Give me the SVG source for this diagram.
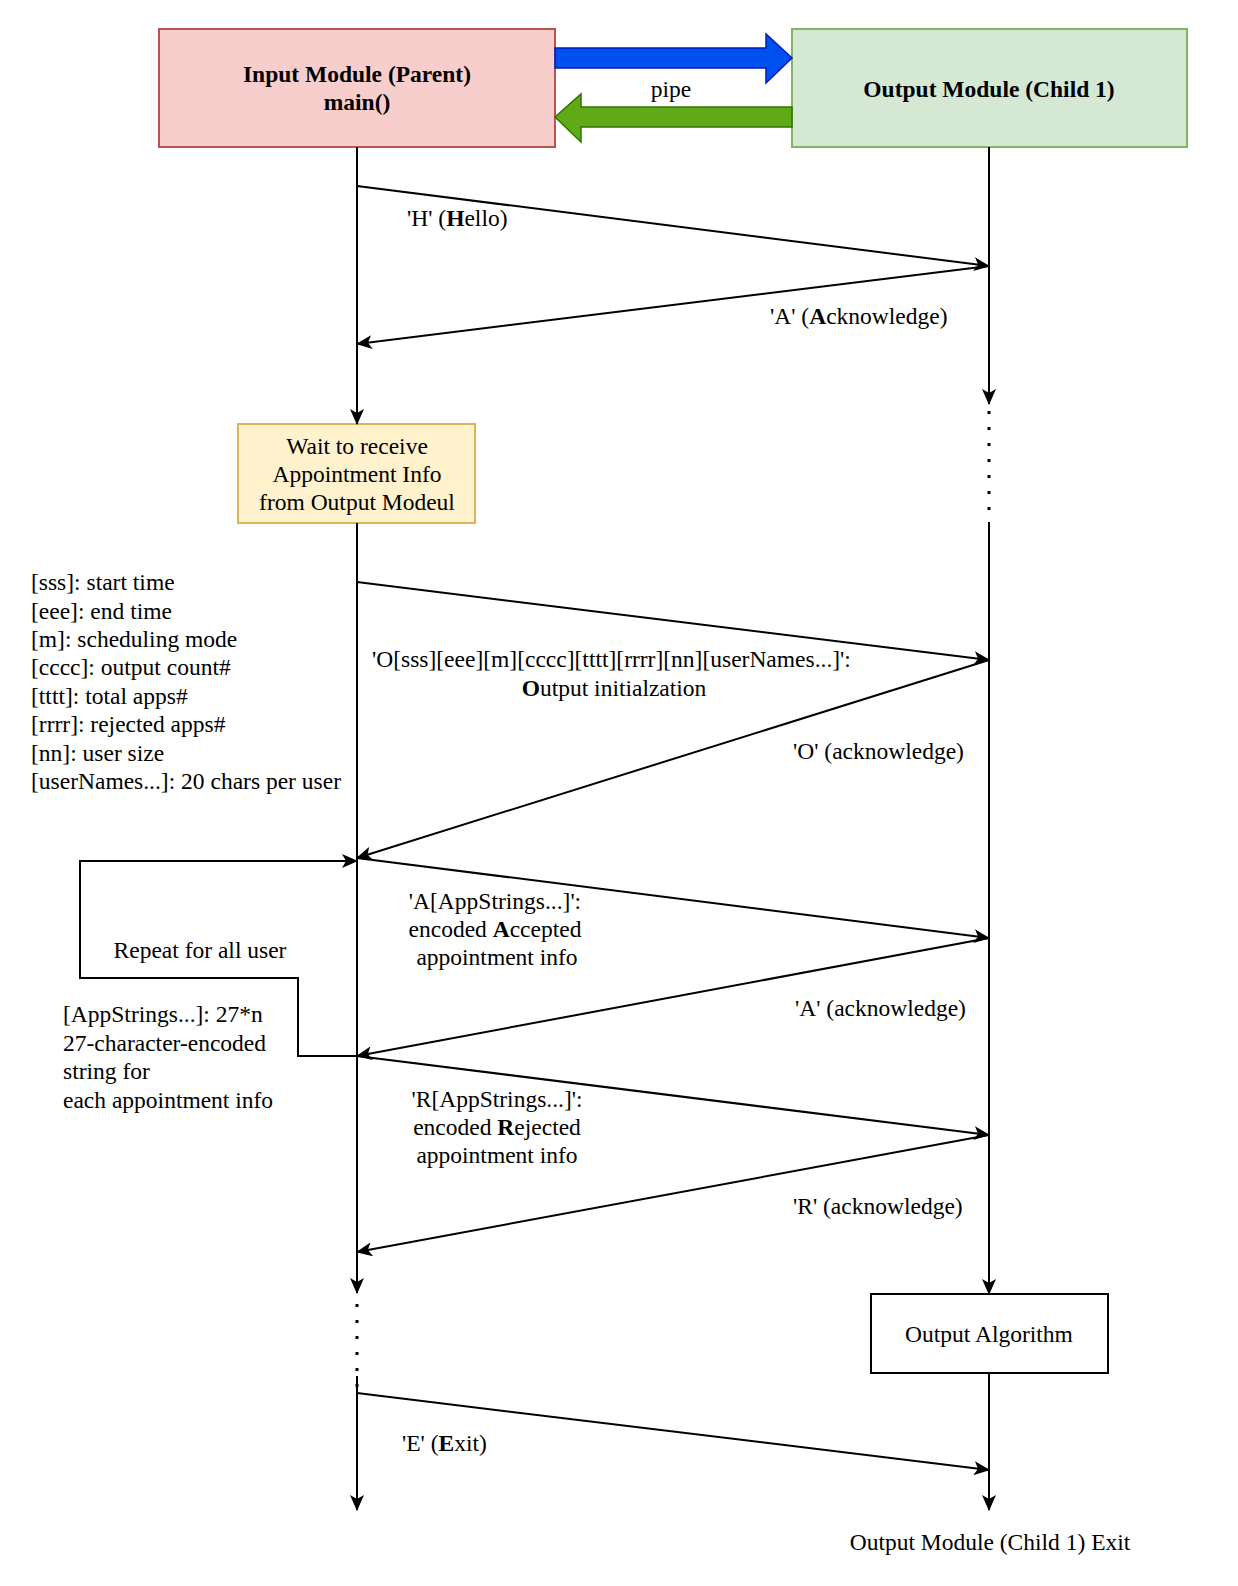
<svg xmlns="http://www.w3.org/2000/svg" width="1238" height="1586" viewBox="0 0 1238 1586">
<style>
text{font-family:"Liberation Serif","Times New Roman",serif;font-size:23.5px;fill:#000}
.c{text-anchor:middle}
.b{font-weight:bold}
.ln{fill:none;stroke:#000;stroke-width:2}
.dot{fill:none;stroke:#000;stroke-width:3;stroke-dasharray:3 13}
</style>
<defs>
<marker id="ah" markerUnits="userSpaceOnUse" markerWidth="16" markerHeight="14" viewBox="0 0 16 14" refX="15" refY="7" orient="auto">
<path d="M0,0 L16,7 L0,14 L4,7 z" fill="#000"/>
</marker>
</defs>
<rect width="1238" height="1586" fill="#fff"/>

<g id="input-module">
<rect x="159" y="29" width="396" height="118" fill="#f8cecc" stroke="#b85450" stroke-width="2"/>
<text class="c b" x="357" y="82">Input Module (Parent)</text>
<text class="c b" x="357" y="110">main()</text>
</g>
<g id="output-module">
<rect x="792" y="29" width="395" height="118" fill="#d5e8d4" stroke="#82b366" stroke-width="2"/>
<text class="c b" x="989" y="97">Output Module (Child 1)</text>
</g>
<g id="pipe">
<path d="M555,48 L766,48 L766,34 L792,58 L766,83 L766,68 L555,68 Z" fill="#0050ef" stroke="#001dbc" stroke-width="1.5"/>
<path d="M792,107 L581,107 L581,94 L555,117 L581,142 L581,127 L792,127 Z" fill="#60a917" stroke="#2d7600" stroke-width="1.5"/>
<text class="c" x="671" y="97">pipe</text>
</g>
<g id="wait-box">
<rect x="238" y="424" width="237" height="99" fill="#fff2cc" stroke="#d6b656" stroke-width="2"/>
<text class="c" x="357" y="454">Wait to receive</text>
<text class="c" x="357" y="482">Appointment Info</text>
<text class="c" x="357" y="510">from Output Modeul</text>
</g>
<g id="output-algorithm">
<rect x="871" y="1294" width="237" height="79" fill="#fff" stroke="#000" stroke-width="2"/>
<text class="c" x="989" y="1342">Output Algorithm</text>
</g>
<g id="exit-label">
<text class="c" x="990" y="1550">Output Module (Child 1) Exit</text>
</g>
<g id="fields-note">
<text x="31" y="590">[sss]: start time</text>
<text x="31" y="619">[eee]: end time</text>
<text x="31" y="647">[m]: scheduling mode</text>
<text x="31" y="675">[cccc]: output count#</text>
<text x="31" y="704">[tttt]: total apps#</text>
<text x="31" y="732">[rrrr]: rejected apps#</text>
<text x="31" y="761">[nn]: user size</text>
<text x="31" y="789">[userNames...]: 20 chars per user</text>
</g>
<g id="appstrings-note">
<text x="63" y="1022">[AppStrings...]: 27*n</text>
<text x="63" y="1051">27-character-encoded</text>
<text x="63" y="1079">string for</text>
<text x="63" y="1108">each appointment info</text>
</g>

<g id="connectors">
<line class="ln" x1="357" y1="147" x2="357" y2="424" marker-end="url(#ah)"/>
<line class="ln" x1="357" y1="523" x2="357" y2="1293" marker-end="url(#ah)"/>
<line class="dot" x1="357" y1="1304" x2="357" y2="1390"/>
<line class="ln" x1="357" y1="1376" x2="357" y2="1510" marker-end="url(#ah)"/>

<line class="ln" x1="989" y1="147" x2="989" y2="404" marker-end="url(#ah)"/>
<line class="dot" x1="989" y1="411" x2="989" y2="522"/>
<line class="ln" x1="989" y1="522" x2="989" y2="1294" marker-end="url(#ah)"/>
<line class="ln" x1="989" y1="1373" x2="989" y2="1510" marker-end="url(#ah)"/>

<line class="ln" x1="357" y1="186" x2="989" y2="266" marker-end="url(#ah)"/>
<line class="ln" x1="989" y1="266" x2="357" y2="344" marker-end="url(#ah)"/>
<line class="ln" x1="357" y1="582" x2="989" y2="660" marker-end="url(#ah)"/>
<line class="ln" x1="989" y1="660" x2="357" y2="858" marker-end="url(#ah)"/>
<line class="ln" x1="357" y1="858" x2="989" y2="938" marker-end="url(#ah)"/>
<line class="ln" x1="989" y1="938" x2="357" y2="1056" marker-end="url(#ah)"/>
<line class="ln" x1="357" y1="1056" x2="989" y2="1135" marker-end="url(#ah)"/>
<line class="ln" x1="989" y1="1135" x2="357" y2="1252" marker-end="url(#ah)"/>
<line class="ln" x1="357" y1="1393" x2="989" y2="1470" marker-end="url(#ah)"/>
<path class="ln" d="M357,1056 L298,1056 L298,978 L80,978 L80,861 L357,861" marker-end="url(#ah)"/>

<text x="407" y="226">'H' (<tspan class="b">H</tspan>ello)</text>
<text x="770" y="324">'A' (<tspan class="b">A</tspan>cknowledge)</text>
<text x="372" y="667">'O[sss][eee][m][cccc][tttt][rrrr][nn][userNames...]':</text>
<text class="c" x="614" y="696"><tspan class="b">O</tspan>utput initialzation</text>
<text x="793" y="759">'O' (acknowledge)</text>
<text class="c" x="495" y="909">'A[AppStrings...]':</text>
<text class="c" x="495" y="937">encoded <tspan class="b">A</tspan>ccepted</text>
<text class="c" x="497" y="965">appointment info</text>
<text x="795" y="1016">'A' (acknowledge)</text>
<text class="c" x="497" y="1107">'R[AppStrings...]':</text>
<text class="c" x="497" y="1135">encoded <tspan class="b">R</tspan>ejected</text>
<text class="c" x="497" y="1163">appointment info</text>
<text x="793" y="1214">'R' (acknowledge)</text>
<text x="402" y="1451">'E' (<tspan class="b">E</tspan>xit)</text>
<text class="c" x="200" y="958">Repeat for all user</text>
</g>
</svg>
